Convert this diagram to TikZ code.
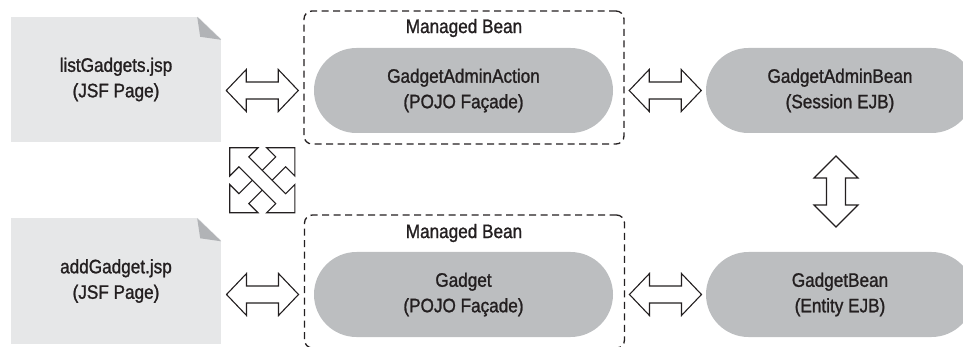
\documentclass[tikz,border=0pt]{standalone}
\usepackage{fontspec}
\setmainfont{Liberation Sans}[FakeStretch=0.88,FakeBold=1.2]
\usetikzlibrary{calc}
\definecolor{pagegray}{HTML}{E6E7E8}
\definecolor{foldgray}{HTML}{B1B3B6}
\definecolor{pillgray}{HTML}{BCBEC0}
\definecolor{ink}{HTML}{231F20}
% #1 centre coordinate, #2 rotation, #3 half length, #4 head length, #5 head half width, #6 shaft half width
\newcommand{\blockdbl}[6]{%
  \draw[blockarrow, shift={#1}, rotate=#2]
    (-#3,0) -- ({-#3+#4},#5) -- ({-#3+#4},#6) -- ({#3-#4},#6) -- ({#3-#4},#5) -- (#3,0)
    -- ({#3-#4},-#5) -- ({#3-#4},-#6) -- ({-#3+#4},-#6) -- ({-#3+#4},-#5) -- cycle;}
\begin{document}
\begin{tikzpicture}[x=1pt,y=-1pt,
  txt/.style={text=ink, font=\fontsize{19.5}{25.5}\selectfont, align=center},
  pagebox/.style={txt, fill=pagegray, minimum width=210pt, minimum height=125pt, inner sep=0pt},
  pill/.style={txt, fill=pillgray, minimum height=85pt, rounded corners=42.5pt, inner sep=0pt},
  mbox/.style={draw=ink, line width=1.3pt, dash pattern=on 7pt off 4.5pt, rounded corners=8pt,
    minimum width=320pt, minimum height=133pt, inner sep=0pt},
  mlabel/.style={txt},
  blockarrow/.style={draw=ink, fill=white, line width=1.1pt, line join=miter}]
\useasboundingbox (0,0) rectangle (963,347);

% JSF pages
\node[pagebox] (p1) at (116,79.5) {listGadgets.jsp\\(JSF Page)};
\node[pagebox] (p2) at (116,281) {addGadget.jsp\\(JSF Page)};
\foreach \p in {p1,p2}{
  \fill[white] ($(\p.north east)+(-24,-1)$) -- ($(\p.north east)+(1,-1)$) -- ($(\p.north east)+(1,23)$) -- cycle;
  \fill[foldgray] ($(\p.north east)+(-24,0)$) -- ($(\p.north east)+(0,23)$) -- ($(\p.north east)+(-21,20)$) -- cycle;
}

% managed bean boxes
\node[mbox] (mb1) at (464,77.5) {};
\node[mbox] (mb2) at (464.5,281.5) {};
\node[mlabel] (ml1) at (464,28) {Managed Bean};
\node[mlabel] (ml2) at (464,233) {Managed Bean};

% pills
\node[pill, minimum width=299pt] (gaa) at (463.5,90.5) {GadgetAdminAction\\(POJO Façade)};
\node[pill, minimum width=299pt] (g) at (463.5,294.5) {Gadget\\(POJO Façade)};
\node[pill, minimum width=268pt] (gab) at (840,90.5) {GadgetAdminBean\\(Session EJB)};
\node[pill, minimum width=268pt] (gb) at (840,294.5) {GadgetBean\\(Entity EJB)};

% block arrows
\coordinate (a1) at ($(p1.east |- gaa)!0.5!(mb1.west |- gaa)$);
\coordinate (a2) at ($(mb1.east |- gaa)!0.5!(gab.west)$);
\coordinate (a3) at ($(p2.east |- g)!0.5!(mb2.west |- g)$);
\coordinate (a4) at ($(mb2.east |- g)!0.5!(gb.west)$);
\coordinate (a5) at ($(gab.south)!0.5!(gb.north) + (-4,-1)$);
\coordinate (a6) at ($(p1.east |- p1.south)!0.5!(mb1.west |- p2.north)$);

\blockdbl{(a1)}{0}{36}{20}{21}{8.5}
\blockdbl{(a2)}{0}{36}{20}{21}{8.5}
\blockdbl{(a3)}{0}{36}{20}{21}{8.5}
\blockdbl{(a4)}{0}{36}{20}{21}{8.5}
\blockdbl{(a5)}{90}{35.5}{22}{22}{9.5}
\blockdbl{(a6)}{45}{46}{20}{20}{7}
\blockdbl{(a6)}{-45}{46}{20}{20}{7}
\end{tikzpicture}
\end{document}
